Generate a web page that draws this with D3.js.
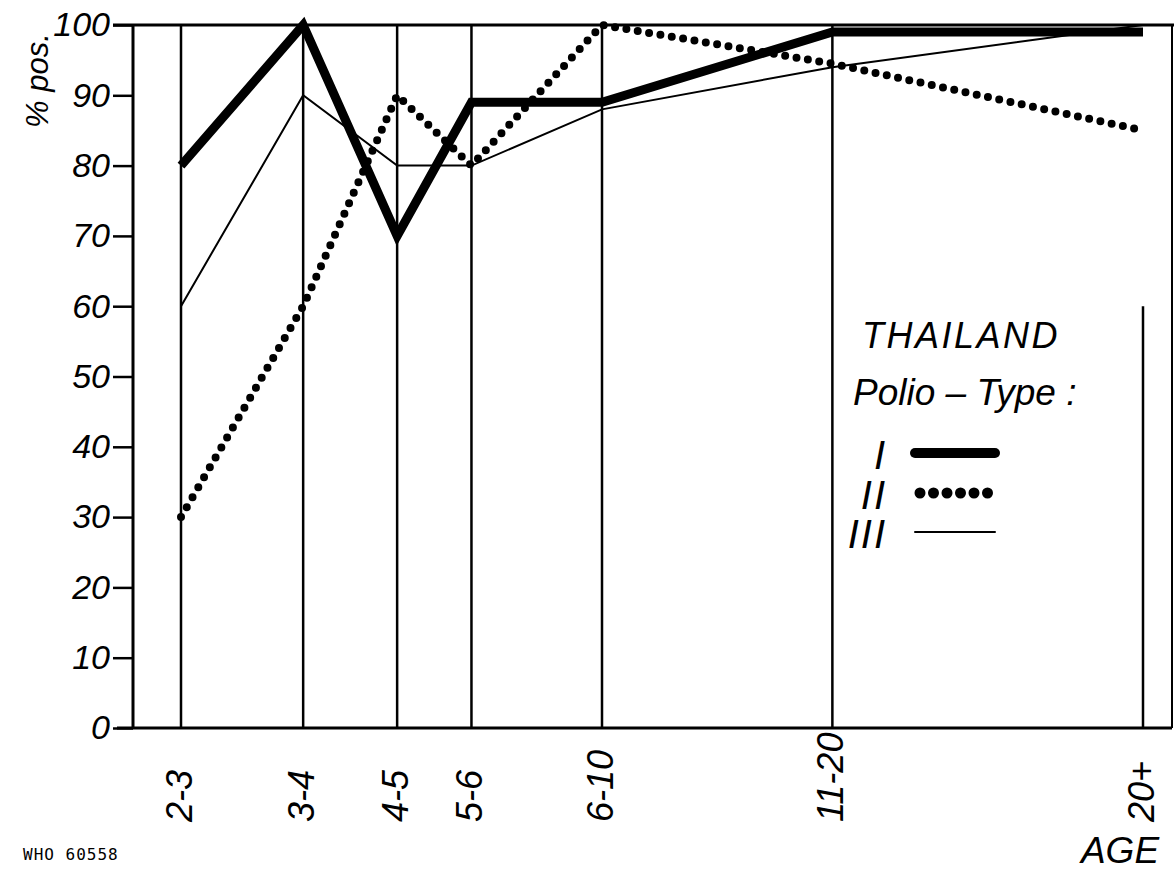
<!DOCTYPE html>
<html>
<head>
<meta charset="utf-8">
<script src="https://cdn.jsdelivr.net/npm/d3@7"></script>
<style>
  body { margin: 0; background: #fff; }
  svg text { font-family: "Liberation Sans", Arial, sans-serif; font-style: italic; fill: #000; }
</style>
</head>
<body>
<script>
// age groups and where they sit on the (log) age axis
const ageGroups = ['2-3', '3-4', '4-5', '5-6', '6-10', '11-20', '20+'];
const agePos = [2.5, 3.52, 4.58, 5.64, 8.13, 15.5, 37];
// top of each vertical rule (the 20+ one stops below the legend)
const ruleTop = [100, 100, 100, 100, 100, 100, 60];

// % positive per polio type
const type1 = [80, 100, 70, 89, 89, 99, 99];
const type2 = [30, 60, 90, 80, 100, 94.5, 85];
const type3 = [60, 90, 80, 80, 88, 94, 100];

const yTicks = [0, 10, 20, 30, 40, 50, 60, 70, 80, 90, 100];
const legendNames = ['I', 'II', 'III'];

const width = 1174, height = 871;

const svg = d3.select('body')
  .append('svg')
  .attr('width', width)
  .attr('height', height);

const x = d3.scaleLog().domain([2.5, 37]).range([181, 1143]);
const y = d3.scaleLinear().domain([0, 100]).range([728, 25]);

const styles = [
  {data: type1, width: 9, dash: null, cap: 'butt', keyWidth: 10, keyDash: null},
  {data: type2, width: 8, dash: '0 11.5', cap: 'round', keyWidth: 11, keyDash: '0 13.5'},
  {data: type3, width: 2, dash: null, cap: 'butt', keyWidth: 2, keyDash: null}
];

// frame
const frame = svg.append('g').attr('stroke', '#000').attr('fill', 'none');
frame.append('line')
  .attr('x1', 113).attr('x2', width).attr('y1', y(100)).attr('y2', y(100))
  .attr('stroke-width', 3);
frame.append('line')
  .attr('x1', 117).attr('x2', 1172).attr('y1', y(0)).attr('y2', y(0))
  .attr('stroke-width', 3);
frame.append('line')
  .attr('x1', 133).attr('x2', 133).attr('y1', y(100)).attr('y2', y(0))
  .attr('stroke-width', 3);
frame.append('line')
  .attr('x1', 1172).attr('x2', 1172).attr('y1', y(100)).attr('y2', y(0))
  .attr('stroke-width', 2);

// vertical rules at each age group
svg.append('g')
  .selectAll('line')
  .data(ageGroups)
  .enter()
  .append('line')
  .attr('x1', (d, i) => x(agePos[i]))
  .attr('x2', (d, i) => x(agePos[i]))
  .attr('y1', (d, i) => y(ruleTop[i]))
  .attr('y2', y(0))
  .attr('stroke', '#000')
  .attr('stroke-width', 2.5);

// y axis
const yAxis = svg.append('g')
  .attr('transform', 'translate(133,0)')
  .call(d3.axisLeft(y).tickValues(yTicks).tickSize(20).tickPadding(3));
yAxis.select('.domain').remove();
yAxis.selectAll('.tick line').attr('stroke-width', 2.5);
yAxis.selectAll('.tick text')
  .attr('font-size', 34)
  .attr('font-family', null);

// x labels, rotated, read bottom to top
svg.append('g')
  .selectAll('text')
  .data(ageGroups)
  .enter()
  .append('text')
  .attr('transform', (d, i) => `translate(${x(agePos[i]) - 2}, 822) rotate(-90)`)
  .attr('text-anchor', 'start')
  .attr('dy', '0.36em')
  .attr('font-size', 36)
  .text(d => d);

// series lines
const line = d3.line()
  .x((d, i) => x(agePos[i]))
  .y(d => y(d));

svg.append('g')
  .selectAll('path')
  .data(styles)
  .enter()
  .append('path')
  .attr('d', d => line(d.data))
  .attr('fill', 'none')
  .attr('stroke', '#000')
  .attr('stroke-width', d => d.width)
  .attr('stroke-dasharray', d => d.dash)
  .attr('stroke-linecap', d => d.cap)
  .attr('stroke-linejoin', 'miter');

// axis titles
svg.append('text')
  .attr('transform', 'translate(48, 128) rotate(-90)')
  .attr('font-size', 31)
  .text('% pos.');

svg.append('text')
  .attr('x', 1120).attr('y', 863)
  .attr('text-anchor', 'middle')
  .attr('font-size', 37)
  .text('AGE');

svg.append('text')
  .attr('x', 23).attr('y', 860)
  .attr('font-size', 16)
  .attr('letter-spacing', 1)
  .style('font-family', '"DejaVu Sans Mono", monospace')
  .style('font-style', 'normal')
  .text('WHO 60558');

// legend
const legend = svg.append('g');
legend.append('text')
  .attr('x', 862).attr('y', 348)
  .attr('font-size', 36)
  .attr('letter-spacing', 2.5)
  .text('THAILAND');
legend.append('text')
  .attr('x', 853).attr('y', 405)
  .attr('font-size', 37)
  .text('Polio \u2013 Type :');

const legendY = [453, 493, 532];
const legendRows = legend.selectAll('.row')
  .data(styles)
  .enter()
  .append('g')
  .attr('class', 'row');

legendRows.append('text')
  .attr('x', 887)
  .attr('y', (d, i) => legendY[i] + 16)
  .attr('text-anchor', 'end')
  .attr('font-size', 40)
  .attr('letter-spacing', 2)
  .text((d, i) => legendNames[i]);

legendRows.append('line')
  .attr('x1', (d, i) => i === 1 ? 920 : 915)
  .attr('x2', 995)
  .attr('y1', (d, i) => legendY[i])
  .attr('y2', (d, i) => legendY[i])
  .attr('stroke', '#000')
  .attr('stroke-width', d => d.keyWidth)
  .attr('stroke-dasharray', d => d.keyDash)
  .attr('stroke-linecap', 'round');
</script>
</body>
</html>
